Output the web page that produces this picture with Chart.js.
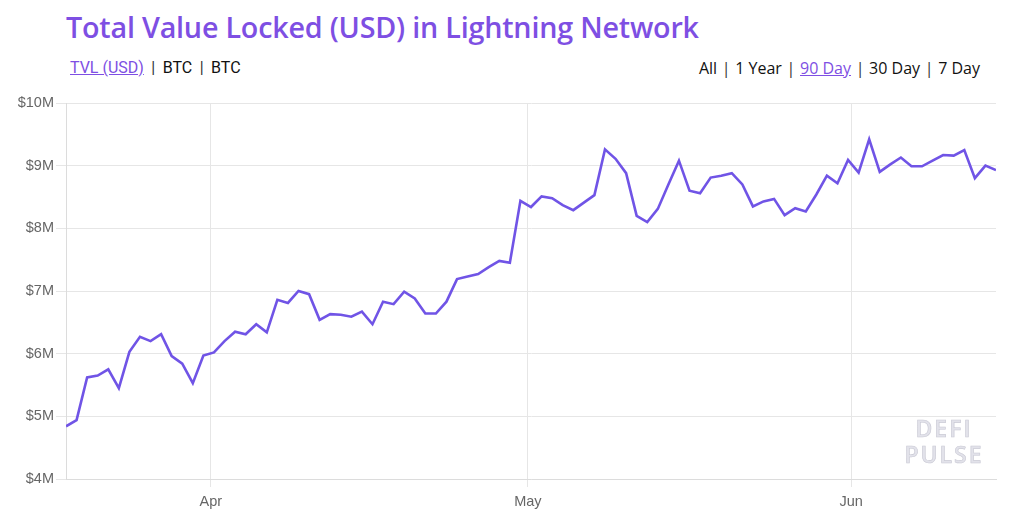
<!DOCTYPE html>
<html>
<head>
<meta charset="utf-8">
<script src="https://cdn.jsdelivr.net/npm/chart.js@4.4.0/dist/chart.umd.min.js"></script>
<style>
  html, body { margin: 0; padding: 0; background: #fff; }
  body { width: 1011px; height: 522px; position: relative; overflow: hidden; font-family: "Open Sans", sans-serif; }
  #title { position: absolute; left: 66px; top: 7px; font-family: "Open Sans", sans-serif; font-weight: 600; font-size: 28.7px; color: #7e4fe3; white-space: nowrap; letter-spacing: -0.2px; }
  #leftLinks { position: absolute; left: 70px; top: 58px; font-family: "Roboto", sans-serif; font-size: 16px; color: #111; white-space: pre; }
  #leftLinks .sep { margin: 0 3.5px; color: #333; }
  #rightLinks { position: absolute; right: 31px; top: 57px; font-family: "Open Sans", sans-serif; font-size: 16px; color: #111; white-space: pre; }
  #rightLinks .sep { margin: 0 0.5px; color: #333; }
  .active { color: #7e4fe3; text-decoration: underline; }
  #wrap { position: absolute; left: 0; top: 90px; width: 1011px; height: 432px; }
  #wm { position: absolute; left: 894px; top: 415px; width: 100px; text-align: center; font-family: "Open Sans", sans-serif; font-weight: 600; font-size: 23px; line-height: 26px; letter-spacing: 2px; color: #e2e2ea; -webkit-text-stroke: 0.6px #c9c9d4; }
</style>
</head>
<body>
<div id="title">Total Value Locked (USD) in Lightning Network</div>
<div id="leftLinks"><span class="active">TVL (USD)</span> <span class="sep">|</span> BTC <span class="sep">|</span> BTC</div>
<div id="rightLinks">All <span class="sep">|</span> 1 Year <span class="sep">|</span> <span class="active">90 Day</span> <span class="sep">|</span> 30 Day <span class="sep">|</span> 7 Day</div>
<div id="wrap"><canvas id="c"></canvas></div>
<div id="wm">DEFI<br>PULSE</div>
<script>
// Daily TVL in millions of USD (approx. Mar 18 -> Jun 14)
const tvlMillions = [
  4.84, 4.94, 5.62, 5.65, 5.75, 5.45, 6.03, 6.27, 6.20, 6.31,
  5.96, 5.84, 5.53, 5.97, 6.02, 6.20, 6.35, 6.31, 6.47, 6.34,
  6.86, 6.81, 7.00, 6.95, 6.54, 6.63, 6.62, 6.59, 6.67, 6.47,
  6.83, 6.79, 6.99, 6.88, 6.64, 6.64, 6.83, 7.19, 7.23, 7.27,
  7.38, 7.48, 7.45, 8.44, 8.34, 8.51, 8.48, 8.37, 8.29, 8.41,
  8.53, 9.26, 9.11, 8.88, 8.20, 8.10, 8.31, 8.70, 9.08, 8.60,
  8.56, 8.81, 8.84, 8.88, 8.70, 8.35, 8.43, 8.47, 8.21, 8.32,
  8.27, 8.54, 8.84, 8.72, 9.09, 8.89, 9.42, 8.90, 9.02, 9.13,
  8.99, 8.99, 9.08, 9.17, 9.16, 9.25, 8.80, 9.00, 8.93
];
// Month tick labels and their position in days since the first sample
const monthLabels = ['Apr', 'May', 'Jun'];
const monthTickDays = [13.7, 43.7, 74.3];
const yTickValues = [4, 5, 6, 7, 8, 9, 10];

const points = tvlMillions.map((v, i) => ({ x: i, y: v }));

new Chart(document.getElementById('c'), {
  type: 'line',
  data: {
    datasets: [{
      data: points,
      borderColor: '#7054e6',
      borderWidth: 2.6,
      pointRadius: 0,
      tension: 0,
      fill: false
    }]
  },
  options: {
    responsive: true,
    maintainAspectRatio: false,
    animation: false,
    layout: { padding: { top: 13, right: 15, left: 0, bottom: 0 } },
    plugins: { legend: { display: false }, tooltip: { enabled: false } },
    scales: {
      x: {
        type: 'linear',
        min: 0,
        max: tvlMillions.length - 1,
        afterBuildTicks: (axis) => { axis.ticks = monthTickDays.map(v => ({ value: v })); },
        afterFit: (axis) => { axis.height = 43; },
        ticks: {
          autoSkip: false,
          maxRotation: 0,
          color: '#666',
          font: { family: 'Liberation Sans', size: 14.5 },
          padding: 6,
          callback: (v, i) => monthLabels[i]
        },
        grid: { color: '#e6e6e6', tickLength: 8, lineWidth: 1 },
        border: { color: '#dcdcdc' }
      },
      y: {
        min: 4,
        max: 10,
        afterBuildTicks: (axis) => { axis.ticks = yTickValues.map(v => ({ value: v })); },
        afterFit: (axis) => { axis.width = 66; },
        ticks: {
          color: '#666',
          font: { family: 'Liberation Sans', size: 14.5 },
          padding: 2,
          callback: (v) => '$' + v + 'M'
        },
        grid: { color: '#e6e6e6', tickLength: 10, lineWidth: 1 },
        border: { color: '#dcdcdc' }
      }
    }
  }
});
</script>
</body>
</html>
